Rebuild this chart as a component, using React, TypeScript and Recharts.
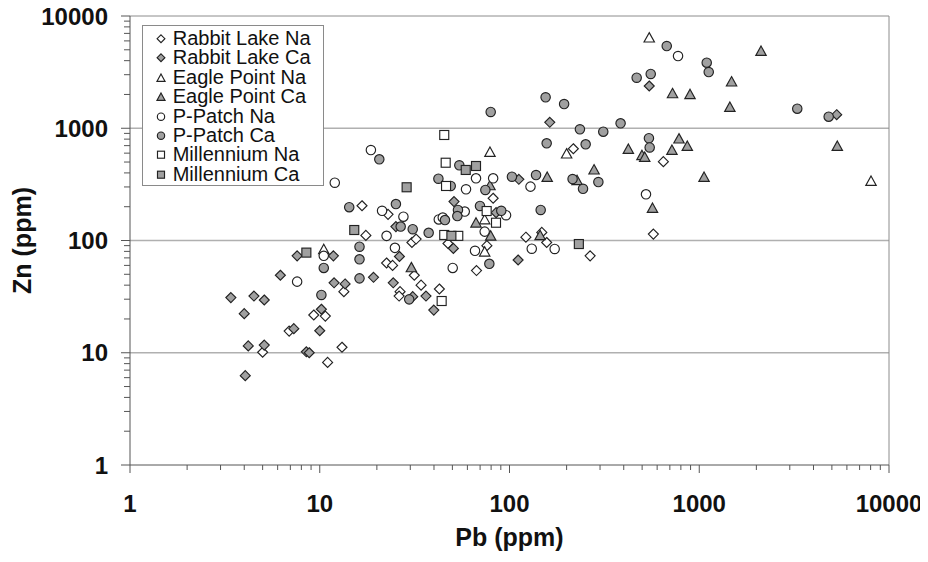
import React from "react";
import { ScatterChart, Scatter, XAxis, YAxis, ReferenceLine, Legend } from "recharts";

// [Pb ppm, Zn ppm]
const rabbitLakeNa: [number, number][] = [
  [9.3, 21.7], [10.7, 21.2], [6.9, 15.6], [5.0, 10.1], [11.0, 8.2], [16.7, 204], [22.9, 171],
  [82, 238], [17.5, 111], [30.6, 96], [32.2, 103], [47.4, 94], [76, 90], [22.5, 63], [24.2, 60],
  [67, 54], [13.4, 35], [31.5, 49], [26.5, 35], [26.2, 32], [34.2, 40], [42.7, 37], [13.1, 11.2],
  [217, 657], [647, 504], [122, 107], [148, 118], [157, 96], [266, 73], [573, 114],
];
const rabbitLakeCa: [number, number][] = [
  [7.6, 73], [6.2, 49], [3.4, 31], [4.5, 32], [5.1, 29.5], [4.0, 22.3], [10.2, 24.4], [7.3, 16.4],
  [10.0, 15.7], [4.2, 11.5], [5.1, 11.7], [8.5, 10.2], [8.8, 10.0], [4.05, 6.25], [51, 222],
  [85, 177], [25.2, 133], [50.6, 85], [26.3, 72], [11.8, 73], [111, 67], [11.9, 42], [13.6, 41],
  [19.2, 47], [24.4, 42], [30.9, 31.6], [36.3, 32], [39.9, 24], [112, 351], [163, 1130],
  [545, 2380], [5300, 1320],
];
const eaglePointNa: [number, number][] = [
  [78.9, 618], [74, 155], [74, 80], [200, 598], [545, 6460], [8040, 341], [10.5, 84],
];
const eaglePointCa: [number, number][] = [
  [78.9, 312], [66.6, 145], [79.6, 111], [30.4, 58], [145, 112], [158, 370], [227, 346],
  [279, 431], [423, 657], [499, 578], [516, 558], [567, 196], [718, 644], [782, 813], [865, 699],
  [1060, 370], [723, 2060], [894, 2020], [1480, 2620], [1450, 1556], [2116, 4910], [5340, 699],
];
const pPatchNa: [number, number][] = [
  [10.5, 73], [7.6, 43], [18.6, 640], [12.0, 327], [66.6, 358], [82, 358], [59, 286], [21.3, 184],
  [27.6, 163], [58.1, 181], [95.9, 168], [42.4, 154], [44.5, 160], [22.5, 110], [74, 120],
  [24.9, 86], [65.8, 81], [50.2, 57], [129, 302], [131, 84.5], [173, 84], [524, 258], [773, 4400],
];
const pPatchCa: [number, number][] = [
  [10.5, 57], [10.2, 32.7], [79.6, 1396], [20.6, 529], [54.4, 468], [42.2, 355], [49, 306],
  [103, 370], [74.6, 282], [14.3, 198], [25.2, 211], [53.5, 187], [53.1, 165], [69.9, 203],
  [90.5, 184], [45.7, 152], [26.7, 133], [30.9, 126], [37.5, 117], [16.2, 88], [16.2, 68],
  [78.3, 62], [16.2, 46], [29.6, 29.9], [155, 1888], [194, 1644], [235, 979], [312, 932],
  [385, 1107], [157, 734], [252, 719], [543, 815], [548, 674], [138, 383], [215, 353], [244, 289],
  [294, 332], [146, 187], [674, 5400], [1095, 3837], [1122, 3170], [468, 2820], [555, 3043],
  [3285, 1494], [4810, 1268],
];
const millenniumNa: [number, number][] = [
  [45.3, 871], [46.1, 493], [46.3, 306], [75.8, 183], [84.9, 144], [45.3, 112], [53.7, 110],
  [43.9, 28.9],
];
const millenniumCa: [number, number][] = [
  [8.5, 78], [58.8, 425], [66.6, 461], [28.7, 298], [15.2, 124], [49.4, 110], [232, 93],
];

const majorTicks = [1, 10, 100, 1000, 10000];
const gridValues = [10, 100, 1000];
const allTicks = [
  ...majorTicks.slice(0, -1).flatMap((d) => [1, 2, 3, 4, 5, 6, 7, 8, 9].map((m) => d * m)),
  10000,
];

const FONT = "'Liberation Sans', Arial, Helvetica, sans-serif";
const GRAY = "#a0a0a0";
const WHITE = "#ffffff";

type Kind = "diamond" | "triangle" | "circle" | "square";

const series: { name: string; data: [number, number][]; kind: Kind; fill: string }[] = [
  { name: "Rabbit Lake Na", data: rabbitLakeNa, kind: "diamond", fill: WHITE },
  { name: "Rabbit Lake Ca", data: rabbitLakeCa, kind: "diamond", fill: GRAY },
  { name: "Eagle Point Na", data: eaglePointNa, kind: "triangle", fill: WHITE },
  { name: "Eagle Point Ca", data: eaglePointCa, kind: "triangle", fill: GRAY },
  { name: "P-Patch Na", data: pPatchNa, kind: "circle", fill: WHITE },
  { name: "P-Patch Ca", data: pPatchCa, kind: "circle", fill: GRAY },
  { name: "Millennium Na", data: millenniumNa, kind: "square", fill: WHITE },
  { name: "Millennium Ca", data: millenniumCa, kind: "square", fill: GRAY },
];

const Marker = ({ kind, cx, cy, fill, s = 1 }: { kind: Kind; cx: number; cy: number; fill: string; s?: number }) => {
  const common = { fill, stroke: "#222", strokeWidth: 1.15 };
  if (cx == null || cy == null) return null;
  if (kind === "diamond") {
    const r = 5 * s;
    return <path d={`M${cx},${cy - r}L${cx + r},${cy}L${cx},${cy + r}L${cx - r},${cy}Z`} {...common} />;
  }
  if (kind === "triangle") {
    const w = 5.2 * s;
    const h = 4.7 * s;
    return <path d={`M${cx},${cy - h}L${cx + w},${cy + h}L${cx - w},${cy + h}Z`} {...common} />;
  }
  if (kind === "circle") return <circle cx={cx} cy={cy} r={4.7 * s} {...common} />;
  return <rect x={cx - 4.5 * s} y={cy - 4.5 * s} width={9 * s} height={9 * s} {...common} />;
};

const tickText = { fontFamily: FONT, fontWeight: "bold" as const, fontSize: 24, fill: "#111" };

const YTick = (props: any) => {
  const { x, y, payload } = props;
  const major = majorTicks.includes(payload.value);
  return (
    <g>
      <line x1={x - (major ? 9 : 6)} x2={x} y1={y} y2={y} stroke="#555" />
      {major && (
        <text x={x - 22} y={y + 8.7} textAnchor="end" {...tickText}>
          {payload.value}
        </text>
      )}
    </g>
  );
};

const XTick = (props: any) => {
  const { x, y, payload } = props;
  const major = majorTicks.includes(payload.value);
  return (
    <g>
      <line x1={x} x2={x} y1={y} y2={y + (major ? 8 : 5)} stroke="#555" />
      {major && (
        <text x={x} y={y + 47} textAnchor="middle" {...tickText}>
          {payload.value}
        </text>
      )}
    </g>
  );
};

const titleText = { fontFamily: FONT, fontWeight: "bold" as const, fontSize: 25, fill: "#111" };

const LegendBox = () => (
  <div
    style={{
      width: 182,
      height: 161,
      border: "1px solid #8a8a8a",
      background: "#fff",
      boxSizing: "border-box",
      paddingTop: 3,
      fontFamily: FONT,
      fontSize: 20,
      color: "#111",
    }}
  >
    {series.map((s) => (
      <div key={s.name} style={{ height: 19.4, display: "flex", alignItems: "center", whiteSpace: "nowrap" }}>
        <svg width={30} height={19.4} style={{ flex: "none" }}>
          <Marker kind={s.kind} cx={18} cy={9.7} fill={s.fill} s={0.78} />
        </svg>
        <span style={{ lineHeight: "19.4px" }}>{s.name}</span>
      </div>
    ))}
  </div>
);

export default function App() {
  return (
    <div style={{ margin: "-8px 0 0 -8px", width: 928, height: 562 }}>
      <ScatterChart width={928} height={562} margin={{ top: 16, right: 39, bottom: 0, left: 0 }}>
        <XAxis
          type="number"
          dataKey="pb"
          scale="log"
          domain={[1, 10000]}
          ticks={allTicks}
          interval={0}
          allowDataOverflow
          height={97}
          tickSize={0}
          tickMargin={0}
          tickLine={false}
          axisLine={{ stroke: "#555" }}
          tick={<XTick />}
          label={{
            content: (p: any) => {
              const vb = p.viewBox || { x: 130, y: 465, width: 759, height: 97 };
              return (
                <text x={vb.x + vb.width / 2} y={vb.y + 81} textAnchor="middle" {...titleText}>
                  Pb (ppm)
                </text>
              );
            },
          }}
        />
        <YAxis
          type="number"
          dataKey="zn"
          scale="log"
          domain={[1, 10000]}
          ticks={allTicks}
          interval={0}
          allowDataOverflow
          width={130}
          tickSize={0}
          tickMargin={0}
          tickLine={false}
          axisLine={{ stroke: "#555" }}
          tick={<YTick />}
          label={{
            content: (p: any) => {
              const vb = p.viewBox || { x: 0, y: 16, width: 130, height: 449 };
              const cx = vb.x + 22;
              const cy = vb.y + vb.height / 2;
              return (
                <text
                  x={cx}
                  y={cy}
                  transform={`rotate(-90, ${cx}, ${cy})`}
                  textAnchor="middle"
                  dominantBaseline="central"
                  {...titleText}
                >
                  Zn (ppm)
                </text>
              );
            },
          }}
        />
        {gridValues.map((v) => (
          <ReferenceLine key={v} y={v} stroke="#b0b0b0" strokeWidth={1.5} />
        ))}
        <ReferenceLine y={10000} stroke="#8c8c8c" />
        <ReferenceLine x={10000} stroke="#8c8c8c" />
        <Legend
          layout="vertical"
          align="center"
          verticalAlign="middle"
          wrapperStyle={{ left: 141.7, top: 25, width: 182, height: 161 }}
          content={() => <LegendBox />}
        />
        {series.map((s) => (
          <Scatter
            key={s.name}
            name={s.name}
            data={s.data.map(([pb, zn]) => ({ pb, zn }))}
            isAnimationActive={false}
            shape={(p: any) => <Marker kind={s.kind} cx={p.cx} cy={p.cy} fill={s.fill} />}
          />
        ))}
      </ScatterChart>
    </div>
  );
}
